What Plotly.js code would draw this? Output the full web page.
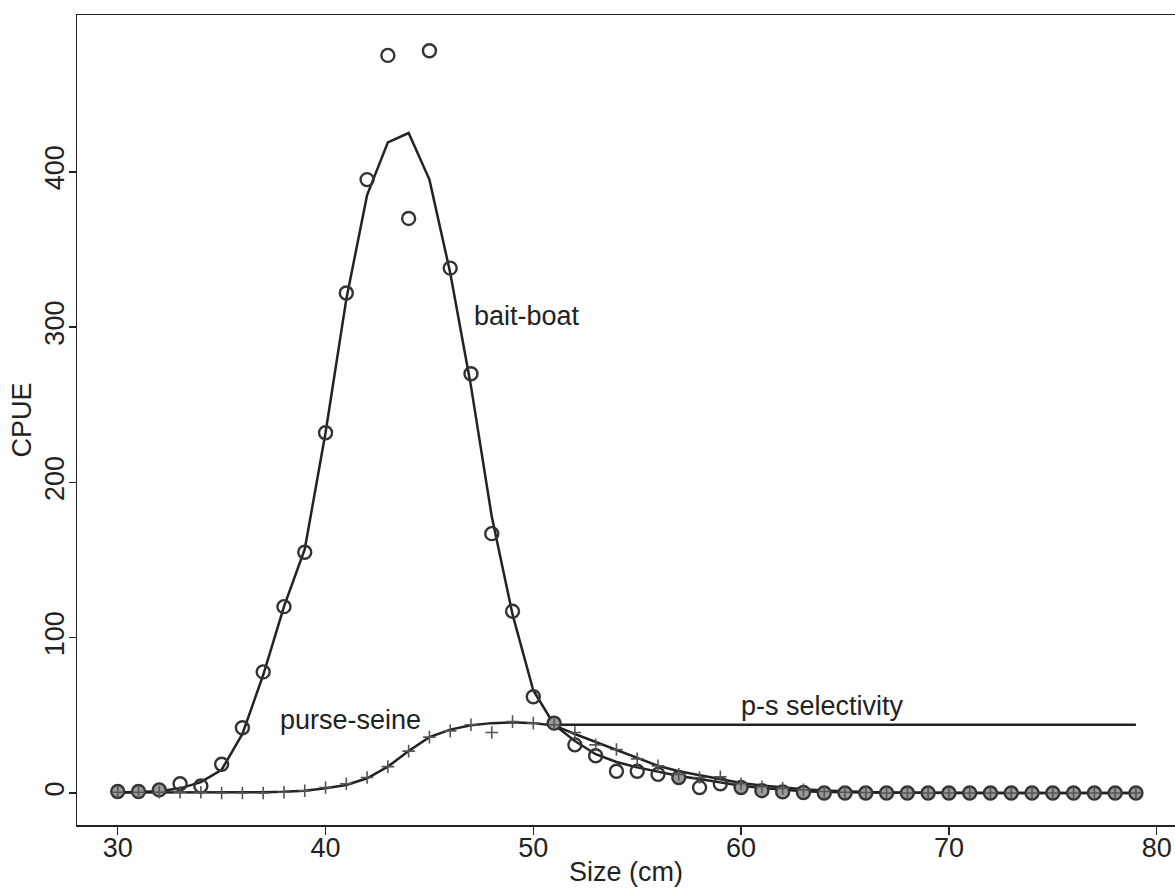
<!DOCTYPE html>
<html>
<head>
<meta charset="utf-8">
<script src="https://cdn.plot.ly/plotly-3.0.1.min.js"></script>
<style>html,body{margin:0;padding:0;background:#fff;}#chart{width:1175px;height:893px;}</style>
</head>
<body>
<div id="chart"></div>
<script>
// Size classes (cm)
var sizes = [30,31,32,33,34,35,36,37,38,39,40,41,42,43,44,45,46,47,48,49,
             50,51,52,53,54,55,56,57,58,59,60,61,62,63,64,65,66,67,68,69,
             70,71,72,73,74,75,76,77,78,79];

// Bait-boat observed CPUE (circles)
var baitBoatObs = [1,1,2,6,4.5,18.5,42,78,120,155,232,322,395,475,370,478,338,270,167,117,
                   62,45,31,24,14,14,12,10,3.5,6,3.5,1.5,0.7,0.3,0,0,0,0,0,0,
                   0,0,0,0,0,0,0,0,0,0];

// Bait-boat fitted curve
var baitBoatFit = [0.3,0.6,1.2,3,7,15,38,76,120,157,232,318,385,419,425,395,335,262,178,115,
                   66,44,33.5,25,20,16.5,13.7,11,9,7,4.7,3.2,2,1.2,0.7,0.4,0.2,0.1,0.1,0,
                   0,0,0,0,0,0,0,0,0,0];

// Purse-seine observed CPUE (plus signs)
var purseSeineObs = [0.5,0.5,0.5,0.5,0.5,0,0,0,0.5,1.5,3.5,6,10,17,27,36,40,44,39,46,
                     45,44,39,31,28,22,17.5,12,10,10.5,6,4,3,2,1,0.5,0.3,0,0,0,
                     0,0,0,0,0,0,0,0,0,0];

// Purse-seine fitted curve
var purseSeineFit = [0.3,0.3,0.3,0.3,0.3,0.3,0.4,0.5,0.8,1.5,3,5.2,9.5,17,27,36,40.8,43.6,45,45.5,
                     45,43.5,38,33,28,22.5,17.5,14,11.5,9,6.4,4.8,3.5,2.4,1.6,1,0.6,0.4,0.2,0.1,
                     0.1,0,0,0,0,0,0,0,0,0];

// Purse-seine selectivity (flat beyond the mode)
var selSizes = [51,79];
var selValues = [44,44];

// Tick labels
var xTicks = [30,40,50,60,70,80];
var yTicks = [0,100,200,300,400];

// Text labels placed on the plot
var labelText = ['bait-boat','purse-seine','p-s selectivity'];
var labelX = [47.05,37.72,59.9];
var labelY = [307,47,56];

var ink = '#222222';
var fontFam = '"Liberation Sans", Arial, Helvetica, sans-serif';

// circles where both series coincide look grey-filled in the original
var circleFill = baitBoatObs.map(function(v,i){
  return Math.abs(v - purseSeineObs[i]) < 2.6 ? '#9a9a9a' : 'rgba(255,255,255,0)';
});

var traces = [
  {x: sizes, y: baitBoatFit, mode: 'lines', line: {color: ink, width: 2.5}, hoverinfo: 'skip'},
  {x: sizes, y: purseSeineFit, mode: 'lines', line: {color: ink, width: 2.5}, hoverinfo: 'skip'},
  {x: selSizes, y: selValues, mode: 'lines', line: {color: ink, width: 2.5}, hoverinfo: 'skip'},
  {x: sizes, y: baitBoatObs, mode: 'markers',
   marker: {symbol: 'circle', size: 13, color: circleFill, line: {color: '#333', width: 2.4}}},
  {x: sizes, y: purseSeineObs, mode: 'markers',
   marker: {symbol: 'cross-thin', size: 9, color: '#555', line: {color: '#555', width: 1.6}}}
];

var annotations = labelText.map(function(t,i){
  return {x: labelX[i], y: labelY[i], xref: 'x', yref: 'y', text: t, showarrow: false,
          xanchor: 'left', yanchor: 'middle', font: {family: fontFam, size: 27, color: ink}};
});

var layout = {
  width: 1175, height: 893,
  margin: {l: 77, r: 0, t: 15, b: 68},
  paper_bgcolor: '#fff', plot_bgcolor: '#fff',
  showlegend: false,
  font: {family: fontFam, size: 27, color: ink},
  xaxis: {
    range: [28.04, 80.88], tickvals: xTicks, ticktext: xTicks.map(String),
    showgrid: false, zeroline: false, showline: true, mirror: true,
    linecolor: ink, linewidth: 1.5, ticks: 'outside', ticklen: 8, tickwidth: 1.5, tickcolor: ink,
    tickfont: {family: fontFam, size: 27, color: ink},
    ticklabelstandoff: -10,
    title: {text: 'Size (cm)', font: {family: fontFam, size: 27, color: ink}, standoff: 0},
    automargin: false
  },
  yaxis: {
    range: [-20.6, 501], tickvals: yTicks, ticktext: yTicks.map(String),
    showgrid: false, zeroline: false, showline: true, mirror: true,
    linecolor: ink, linewidth: 1.5, ticks: 'outside', ticklen: 7, tickwidth: 1.5, tickcolor: ink,
    tickangle: -90,
    ticklabelstandoff: -6,
    tickfont: {family: fontFam, size: 27, color: ink},
    title: {text: 'CPUE', font: {family: fontFam, size: 27, color: ink}, standoff: 0},
    automargin: false
  },
  annotations: annotations
};

Plotly.newPlot('chart', traces, layout, {displayModeBar: false, staticPlot: true});
</script>
</body>
</html>
